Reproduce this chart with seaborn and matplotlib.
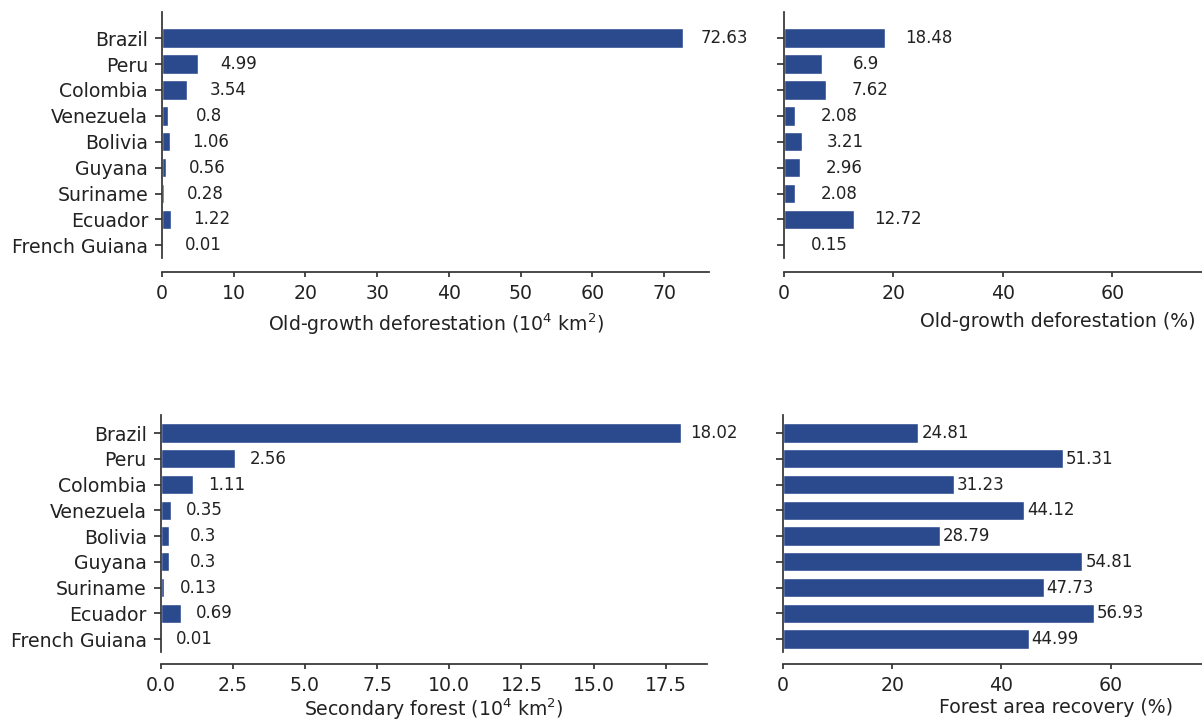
import matplotlib
matplotlib.use("Agg")
import matplotlib.pyplot as plt
import seaborn as sns

# Amazon countries and their forest metrics
countries = ["Brazil", "Peru", "Colombia", "Venezuela", "Bolivia",
             "Guyana", "Suriname", "Ecuador", "French Guiana"]
old_growth_area = [72.63, 4.99, 3.54, 0.8, 1.06, 0.56, 0.28, 1.22, 0.01]
old_growth_pct = [18.48, 6.9, 7.62, 2.08, 3.21, 2.96, 2.08, 12.72, 0.15]
secondary_area = [18.02, 2.56, 1.11, 0.35, 0.3, 0.3, 0.13, 0.69, 0.01]
recovery_pct = [24.81, 51.31, 31.23, 44.12, 28.79, 54.81, 47.73, 56.93, 44.99]
pct_ticks = [0, 20, 40, 60]

BAR_COLOR = "#2b4a8e"
TEXT_COLOR = "#222222"

sns.set_theme(style="ticks")
plt.rcParams["font.family"] = ["DejaVu Sans"]
plt.rcParams["axes.edgecolor"] = "#333333"
plt.rcParams["xtick.color"] = "#333333"
plt.rcParams["ytick.color"] = "#333333"
plt.rcParams["xtick.labelcolor"] = TEXT_COLOR
plt.rcParams["ytick.labelcolor"] = TEXT_COLOR

W, H = 1202, 722
fig = plt.figure(figsize=(W / 100, H / 100), dpi=100)


def px_axes(left, top, right, bottom):
    return fig.add_axes([left / W, 1 - bottom / H, (right - left) / W, (bottom - top) / H])


panels = [
    # values, xlabel, xlim, ticks, label offset (px), label alignment, show names,
    # box, ylim, spine offset, xlabel pad
    (old_growth_area, r"Old-growth deforestation (10$^4$ km$^2$)", max(old_growth_area) * 1.05, None,
     41, "center", True, (162, 12.3, 709, 258.3), (8.5, -1.0), 13.4, 6),
    (old_growth_pct, "Old-growth deforestation (%)", 100, pct_ticks,
     44, "center", False, (784, 12.3, 1331, 258.3), (8.5, -1.0), 13.4, 6),
    (secondary_area, r"Secondary forest (10$^4$ km$^2$)", max(secondary_area) * 1.05, None,
     33.5, "center", True, (160.7, 415, 706.7, 652), (8.5, -0.7), 11.5, 1),
    (recovery_pct, "Forest area recovery (%)", 100, pct_ticks,
     3, "left", False, (783, 415, 1329, 652), (8.5, -0.7), 11.5, 2),
]

for values, xlabel, xmax, ticks, off, ha, show_names, box, ylim, spine_off, lpad in panels:
    ax = px_axes(*box)
    sns.barplot(x=values, y=countries, orient="h", color=BAR_COLOR,
                saturation=1, width=0.75, ax=ax)
    ax.set_xlim(0, xmax)
    if ticks is not None:
        ax.set_xticks(ticks)
    ax.set_ylim(*ylim)
    sns.despine(ax=ax)
    ax.spines["bottom"].set_position(("outward", spine_off * 72 / 100))
    ax.set_ylabel("")
    ax.set_xlabel(xlabel, fontsize=13.6, color=TEXT_COLOR, labelpad=lpad)
    ax.tick_params(axis="x", labelsize=13.6, length=3.5, pad=5.5)
    ax.tick_params(axis="y", labelsize=13.6, length=5, pad=5)
    if not show_names:
        ax.set_yticklabels([])
    for i, v in enumerate(values):
        ax.annotate(f"{v:g}", xy=(v, i), xytext=(off, 0), textcoords="offset pixels",
                    ha=ha, va="center", fontsize=12, color=TEXT_COLOR)

fig.savefig("out.png", dpi=100)
